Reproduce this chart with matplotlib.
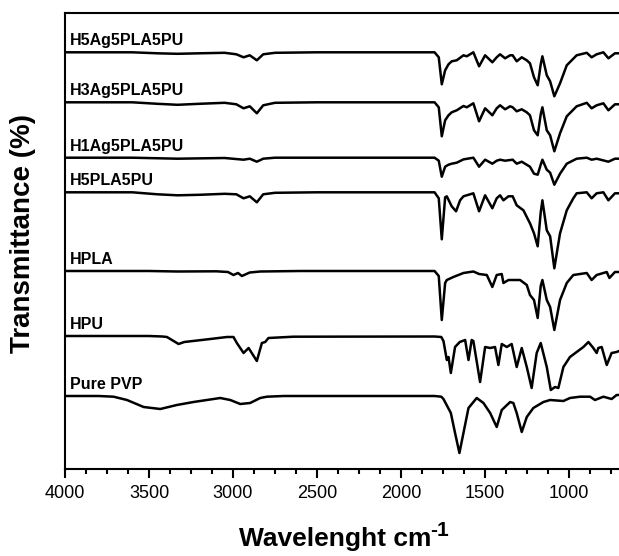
import matplotlib
matplotlib.use('Agg')
import matplotlib.pyplot as plt
from matplotlib.ticker import MultipleLocator

plt.rcParams['font.family'] = ['Liberation Sans', 'DejaVu Sans']

# sample names, top to bottom
names = ['H5Ag5PLA5PU', 'H3Ag5PLA5PU', 'H1Ag5PLA5PU', 'H5PLA5PU', 'HPLA', 'HPU', 'Pure PVP']
# vertical offset of each spectrum (arbitrary units)
levels = [416.7, 366.7, 311.3, 276.7, 198, 133, 73]

# wavenumber (cm-1) and band depth below the baseline
h5ag_wn = [4000, 3600, 3450, 3330, 3200, 3050, 2980, 2937, 2900, 2858, 2820, 2750, 2500,
           1800, 1775, 1757, 1737, 1717, 1698, 1668, 1628, 1608, 1569, 1535, 1499, 1456,
           1430, 1410, 1380, 1350, 1335, 1311, 1281, 1251, 1232, 1208, 1186, 1168, 1158,
           1132, 1112, 1087, 1053, 1013, 954, 894, 865, 835, 795, 765, 726, 702]
h5ag_d = [0, 0, 1, 1.5, 1, 0.5, 2, 5, 3, 8, 2, 0.5, 0,
          0, 5, 32, 18, 12, 9, 8, 3, 4, 0, 14, 3, 10,
          5, 2, 6, 3, 3, 9, 5, 8, 11, 25, 33, 12, 4,
          23, 29, 44, 31, 13, 3, 0.5, 5, 2, 0, 6, 1, 1]

h3ag_wn = [4000, 3600, 3450, 3330, 3200, 3050, 2980, 2937, 2900, 2858, 2820, 2750, 2500,
           1800, 1775, 1757, 1737, 1717, 1698, 1668, 1628, 1608, 1569, 1535, 1499, 1456,
           1430, 1410, 1380, 1350, 1335, 1311, 1281, 1251, 1232, 1208, 1186, 1168, 1158,
           1132, 1112, 1087, 1053, 1013, 954, 894, 865, 835, 795, 765, 726, 702]
h3ag_d = [0, 0, 1.5, 2.5, 1.5, 0.5, 2, 6, 4, 11, 3, 0.5, 0,
          0, 5, 34, 18, 13, 10, 8, 3.7, 5, 1, 19, 6, 13,
          6, 3, 7, 4, 5, 9, 7, 10, 13, 28, 33, 12, 5,
          28, 33, 49, 31, 14, 4, 0.5, 6, 3, 1, 8, 2, 2]

h1ag_wn = [4000, 3600, 3330, 3050, 2937, 2900, 2858, 2820, 2750,
           1800, 1775, 1757, 1737, 1717, 1698, 1668, 1628, 1569, 1535, 1499, 1456,
           1430, 1410, 1380, 1335, 1311, 1281, 1232, 1208, 1186, 1168, 1158,
           1132, 1112, 1087, 1053, 1013, 954, 894, 865, 835, 765, 726, 702]
h1ag_d = [0, 0, 1, 0.3, 2, 1, 4, 1, 0,
          0, 3, 19, 9, 7, 6, 5, 1.7, 0, 9, 2, 6,
          3, 2, 3, 2, 6, 4, 9, 16, 17, 7, 2,
          12, 15, 27, 16, 6, 1, 0, 2, 1, 4, 1, 1]

h5pla_wn = [4000, 3600, 3450, 3330, 3200, 3050, 2980, 2937, 2900, 2858, 2820, 2750, 2500,
            1800, 1775, 1757, 1737, 1727, 1698, 1672, 1648, 1628, 1569, 1535, 1499, 1456,
            1430, 1410, 1390, 1360, 1335, 1311, 1271, 1232, 1208, 1186, 1168, 1158,
            1132, 1112, 1087, 1053, 1013, 974, 954, 894, 865, 835, 795, 765, 726, 702]
h5pla_d = [0, 0, 2, 3, 2.5, 1.5, 2, 6, 4, 10, 2, 0.5, 0,
           0, 6, 47, 5, 4, 14, 19, 8, 4, 1, 19, 3, 16,
           6, 3, 8, 4, 4, 13, 18, 31, 41, 54, 20, 8,
           38, 44, 76, 41, 18, 6, 1, 0, 6, 1, 0, 8, 1, 1]

hpla_wn = [4000, 3500, 3330, 3100, 3030, 2997, 2970, 2947, 2900, 2838, 2600,
           1800, 1775, 1757, 1737, 1727, 1688, 1628, 1569, 1535, 1489, 1456,
           1430, 1400, 1390, 1360, 1335, 1291, 1251, 1232, 1208, 1186, 1168, 1158,
           1132, 1112, 1087, 1053, 1013, 974, 894, 865, 835, 775, 759, 726, 702]
hpla_d = [0, 0, 0.5, 0.3, 1, 4, 2, 5, 1.5, 0.5, 0,
          0, 5, 49, 12, 9, 6, 2, 0.5, 3, 4, 16,
          4, 3, 12, 9, 9, 9, 14, 24, 29, 47, 15, 9,
          29, 36, 59, 29, 12, 4, 2, 9, 4, 1, 7, 1, 1]

hpu_wn = [4000, 3500, 3420, 3393, 3324, 3290, 3135, 3036, 2997, 2977, 2937, 2907, 2858,
          2828, 2808, 2789, 2640, 1800, 1760, 1747, 1727, 1717, 1703, 1678, 1650, 1618,
          1598, 1579, 1569, 1529, 1499, 1469, 1440, 1420, 1400, 1370, 1341, 1311, 1281,
          1251, 1222, 1192, 1168, 1132, 1108, 1083, 1063, 1033, 994, 954, 914, 884, 855,
          835, 825, 805, 775, 746, 716, 702]
hpu_d = [0, 0, 0.5, 1, 8, 6, 3, 1, 1, 7, 17, 12, 25,
         7, 6, 2, 0.7, 0.5, 1, 5, 24, 21, 37, 11, 6, 4,
         24, 4, 5, 46, 11, 12, 11, 29, 8, 11, 8, 31, 12,
         31, 52, 17, 7, 31, 54, 51, 52, 31, 21, 16, 11, 6, 12,
         17, 12, 11, 29, 17, 16, 15]

pvp_wn = [4000, 3800, 3711, 3631, 3532, 3433, 3334, 3235, 3076, 3016, 2957, 2898, 2838,
          2798, 2700, 1800, 1760, 1747, 1703, 1678, 1652, 1628, 1598, 1549, 1509, 1469,
          1430, 1400, 1350, 1331, 1311, 1281, 1251, 1212, 1152, 1112, 1033, 994, 934,
          874, 845, 795, 746, 716, 702]
pvp_d = [0, 0, 0.7, 4, 11, 13, 9, 6, 2, 4, 8, 7, 2,
         0.7, 0, 0, 0.7, 3, 17, 37, 57, 37, 12, 2, 7, 17,
         31, 14, 6, 7, 17, 36, 21, 12, 6, 4, 5, 2, 0.7,
         0.7, 4, 0.7, 3, -1, -1]

spectra = [(h5ag_wn, h5ag_d), (h3ag_wn, h3ag_d), (h1ag_wn, h1ag_d), (h5pla_wn, h5pla_d),
           (hpla_wn, hpla_d), (hpu_wn, hpu_d), (pvp_wn, pvp_d)]

fig = plt.figure(figsize=(6.19, 5.56), dpi=100)
ax = fig.add_axes([65 / 619, 87 / 556, 554 / 619, 456 / 556])

for name, level, (wn, d) in zip(names, levels, spectra):
    ax.plot(wn, [level - v for v in d], color='black', linewidth=1.8,
            solid_joinstyle='round')
    ax.text(3972, level + 7, name, fontsize=11.5, fontweight='bold', va='baseline', ha='left')

ax.set_xlim(4000, 702)
ax.set_ylim(0, 456)
ax.set_yticks([])
ax.spines['right'].set_visible(False)
for s in ['left', 'top', 'bottom']:
    ax.spines[s].set_linewidth(1.5)

ax.xaxis.set_major_locator(MultipleLocator(500))
ax.xaxis.set_minor_locator(MultipleLocator(125))
ax.tick_params(axis='x', which='major', direction='out', length=6.5, width=1.5, labelsize=13, pad=5)
ax.tick_params(axis='x', which='minor', direction='out', length=3.6, width=1.5)

# x label with a large bold superscript, as in the original
fig.text(335 / 619, 10 / 556, 'Wavelenght cm', fontsize=19, fontweight='bold',
         ha='center', va='baseline')
fig.text(430 / 619, 20 / 556, '-1', fontsize=15, fontweight='bold',
         ha='left', va='baseline')

ax.set_ylabel('Transmittance (%)', fontsize=20, fontweight='bold')
ax.yaxis.set_label_coords(-0.052, 0.516)

plt.savefig('out.png', dpi=100)
plt.close(fig)
